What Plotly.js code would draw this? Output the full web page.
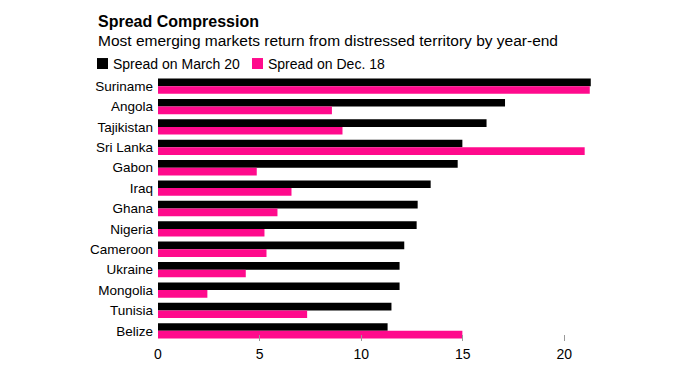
<!DOCTYPE html>
<html>
<head>
<meta charset="utf-8">
<script src="https://cdn.plot.ly/plotly-3.0.1.min.js"></script>
<style>html,body{margin:0;padding:0;background:#fff;}#chart{width:680px;height:374px;}</style>
</head>
<body>
<div id="chart"></div>
<script>
const countries = ["Suriname","Angola","Tajikistan","Sri Lanka","Gabon","Iraq","Ghana","Nigeria","Cameroon","Ukraine","Mongolia","Tunisia","Belize"];
const spreadMarch20 = [21.3, 17.08, 16.17, 14.98, 14.75, 13.42, 12.78, 12.73, 12.12, 11.89, 11.89, 11.49, 11.3];
const spreadDec18 = [21.25, 8.56, 9.08, 21.0, 4.86, 6.57, 5.88, 5.24, 5.34, 4.32, 2.43, 7.34, 14.98];
const seriesNames = ["Spread on March 20", "Spread on Dec. 18"];
const xTicks = [0, 5, 10, 15, 20];
const titleText = "Spread Compression";
const subtitleText = "Most emerging markets return from distressed territory by year-end";

const colors = ["#000000", "#ff0a8c"];
const FONT = "Liberation Sans, Arial, Helvetica, sans-serif";

const traces = [
  {type: "bar", orientation: "h", name: seriesNames[0], y: countries, x: spreadMarch20, marker: {color: colors[0]}, hoverinfo: "x+y"},
  {type: "bar", orientation: "h", name: seriesNames[1], y: countries, x: spreadDec18, marker: {color: colors[1]}, hoverinfo: "x+y"}
];

const M = {l: 158, r: 75, t: 75.5, b: 33};
const PW = 680 - M.l - M.r, PH = 374 - M.t - M.b;
const px = p => (p - M.l) / PW;
const py = p => (374 - M.b - p) / PH;

const shapes = [], annotations = [];
annotations.push({xref: "paper", yref: "paper", x: px(96), y: py(21), xanchor: "left", yanchor: "middle", showarrow: false,
  text: "<b>" + titleText + "</b>", font: {family: FONT, size: 16, color: "#000"}});
annotations.push({xref: "paper", yref: "paper", x: px(96), y: py(40), xanchor: "left", yanchor: "middle", showarrow: false,
  text: subtitleText, font: {family: FONT, size: 15.5, color: "#000"}});
const legX = [97, 252];
seriesNames.forEach((n, i) => {
  shapes.push({type: "rect", xref: "paper", yref: "paper", x0: px(legX[i]), x1: px(legX[i] + 11), y0: py(68.5), y1: py(57.5),
    fillcolor: colors[i], line: {width: 0}});
  annotations.push({xref: "paper", yref: "paper", x: px(legX[i] + 14), y: py(63), xanchor: "left", yanchor: "middle", showarrow: false,
    text: n, font: {family: FONT, size: 14, color: "#000"}});
});

const layout = {
  width: 680, height: 374,
  margin: M,
  paper_bgcolor: "#fff", plot_bgcolor: "#fff",
  showlegend: false,
  barmode: "group", bargap: 0.25, bargroupgap: 0,
  font: {family: FONT, color: "#000"},
  xaxis: {range: [0, 22], tickvals: xTicks, ticktext: xTicks.map(String), ticks: "inside", ticklen: 6, tickcolor: "#999",
    showgrid: false, zeroline: false, showline: false, tickfont: {family: FONT, size: 14, color: "#000"},
    ticklabelstandoff: 3, fixedrange: true},
  yaxis: {autorange: "reversed", ticks: "", showgrid: false, zeroline: false, showline: false,
    tickfont: {family: FONT, size: 13.5, color: "#000"}, ticklabelstandoff: 4, fixedrange: true},
  shapes: shapes,
  annotations: annotations
};

Plotly.newPlot("chart", traces, layout, {displayModeBar: false, staticPlot: true});
</script>
</body>
</html>
